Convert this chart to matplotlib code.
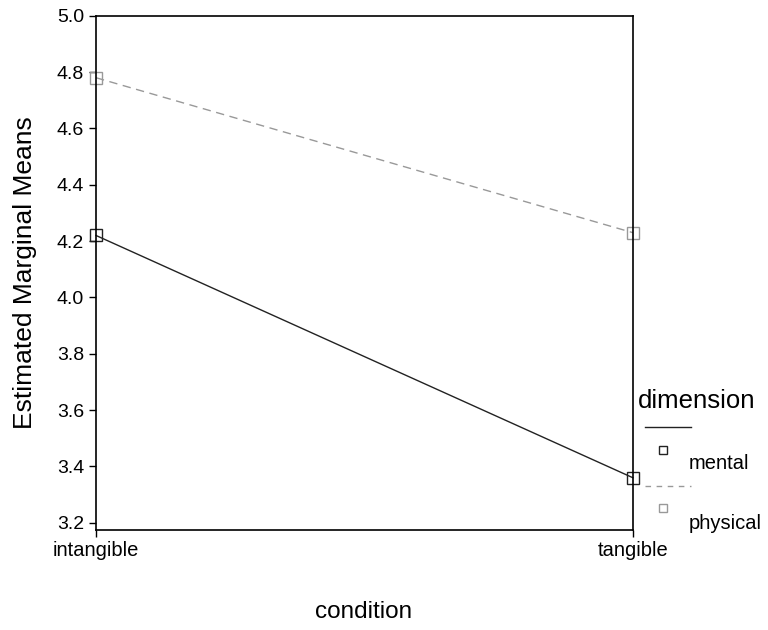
import matplotlib.pyplot as plt
from matplotlib.lines import Line2D

plt.rcParams['font.family'] = ['Liberation Sans', 'DejaVu Sans']

conditions = ["intangible", "tangible"]
mental = [4.22, 3.36]
physical = [4.78, 4.23]
yticks = [3.2, 3.4, 3.6, 3.8, 4.0, 4.2, 4.4, 4.6, 4.8, 5.0]

fig = plt.figure(figsize=(7.68, 6.3), dpi=100)
ax = fig.add_axes([0.125, 0.159, 0.699, 0.816])

x = range(len(conditions))
ax.plot(x, mental, color="#222222", lw=1.0, marker="s", ms=8,
        mfc="none", mec="#222222", mew=1.0, clip_on=False)
ax.plot(x, physical, color="#999999", lw=1.0, ls=(0, (6, 4)), marker="s", ms=8,
        mfc="none", mec="#999999", mew=1.0, clip_on=False)

ax.set_xlim(0, 1)
ax.set_ylim(3.175, 5.0)
ax.set_yticks(yticks)
ax.set_yticklabels([f"{v:.1f}" for v in yticks], fontsize=14)
ax.set_xticks(list(x))
ax.set_xticklabels(conditions, fontsize=14.5)
ax.tick_params(axis="y", direction="out", length=5, width=1)
ax.tick_params(axis="x", direction="out", length=5, width=1, pad=3)
for s in ax.spines.values():
    s.set_linewidth(1.2)

ax.set_ylabel("Estimated Marginal Means", fontsize=19, labelpad=14)
fig.text(0.474, 0.029, "condition", fontsize=17.5, ha="center", va="center")

# legend, SPSS style
fig.text(0.831, 0.353, "dimension", fontsize=18.5)
fig.add_artist(Line2D([0.84, 0.90], [0.322, 0.322], color="#222222", lw=1.0))
fig.add_artist(Line2D([0.863], [0.286], marker="s", ms=6, mfc="none", mec="#222222", ls="none"))
fig.add_artist(Line2D([0.84, 0.90], [0.229, 0.229], color="#999999", lw=1.0, ls=(0, (4, 4))))
fig.add_artist(Line2D([0.863], [0.194], marker="s", ms=6, mfc="none", mec="#999999", ls="none"))
fig.text(0.897, 0.255, "mental", fontsize=14.5)
fig.text(0.897, 0.16, "physical", fontsize=14.5)

fig.savefig("out.png", dpi=100)
